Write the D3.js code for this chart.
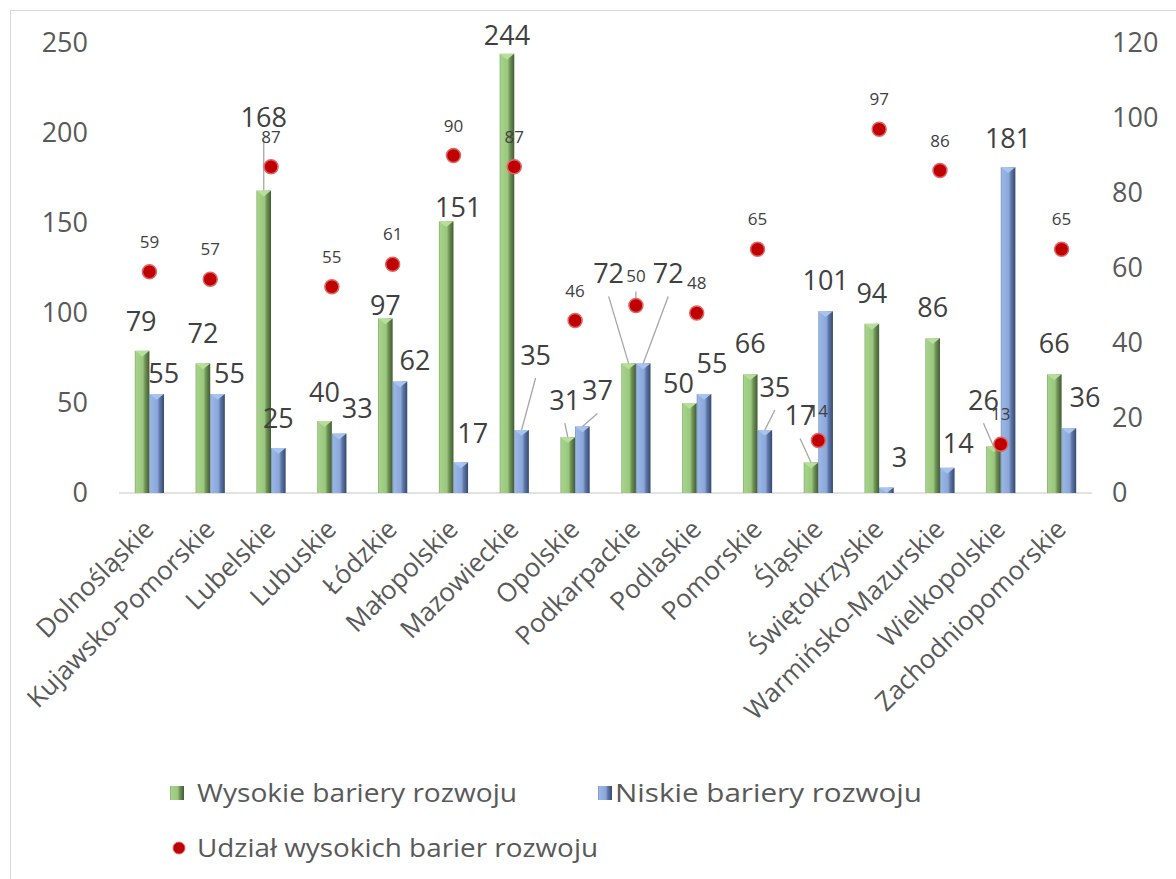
<!DOCTYPE html>
<html>
<head>
<meta charset="utf-8">
<script src="https://cdn.jsdelivr.net/npm/d3@7"></script>
<style>
  body { margin: 0; background: #fff; }
  text { font-family: "Open Sans", sans-serif; }
</style>
</head>
<body>
<svg width="1176" height="879"></svg>
<script>
// data
const categories = ["Dolnośląskie", "Kujawsko-Pomorskie", "Lubelskie", "Lubuskie", "Łódzkie", "Małopolskie",
    "Mazowieckie", "Opolskie", "Podkarpackie", "Podlaskie", "Pomorskie", "Śląskie", "Świętokrzyskie",
    "Warmińsko-Mazurskie", "Wielkopolskie", "Zachodniopomorskie"];
const wysokie = [79, 72, 168, 40, 97, 151, 244, 31, 72, 50, 66, 17, 94, 86, 26, 66];
const niskie = [55, 55, 25, 33, 62, 17, 35, 37, 72, 55, 35, 101, 3, 14, 181, 36];
const udzial = [59, 57, 87, 55, 61, 90, 87, 46, 50, 48, 65, 14, 97, 86, 13, 65];
const leftTicks = [0, 50, 100, 150, 200, 250];
const rightTicks = [0, 20, 40, 60, 80, 100, 120];
const seriesNames = ["Wysokie bariery rozwoju", "Niskie bariery rozwoju", "Udział wysokich barier rozwoju"];

// label nudges (dx, dy from bar top centre), like the hand-moved labels in the original
const nudgeW = [[-1,-20],[0,-20],[0,-64],[0,-19],[0,-3],[12,-4],[0,-9],[-3,-27],[-20,-80],[-11,-10],[0,-21],[-11,-37],[0,-21],[0,-21],[-10,-36],[0,-21]];
const nudgeN = [[7,-11],[12,-11],[0,-20],[18,-16],[15,-11],[12,-19],[14,-65],[15,-26],[25,-80],[8,-21],[10,-33],[0,-21],[13,-21],[11,-15],[0,-19],[16,-21]];
const leaderW = [2, 7, 8, 11, 14];
const leaderN = [6, 7, 8, 10];
const leaderDot = [8];

const svg = d3.select("svg");
const plotLeft = 119, plotRight = 1092, plotTop = 43, plotBottom = 493;
const barW = 14.6;

const x = d3.scaleBand().domain(categories).range([plotLeft, plotRight]);
const xSub = d3.scaleBand().domain(["w", "n"])
    .range([x.bandwidth() / 2 - barW, x.bandwidth() / 2 + barW]);
const yL = d3.scaleLinear().domain([0, 250]).range([plotBottom, plotTop]);
const yR = d3.scaleLinear().domain([0, 120]).range([plotBottom, plotTop]);

// gradients
const defs = svg.append("defs");
function grad(id, stops) {
    const g = defs.append("linearGradient").attr("id", id)
        .attr("x1", "0").attr("x2", "1").attr("y1", "0").attr("y2", "0");
    stops.forEach(s => g.append("stop").attr("offset", s[0]).attr("stop-color", s[1]));
}
grad("gW", [[0, "#7ea565"], [0.08, "#a6d38a"], [0.55, "#9ac77d"], [0.7, "#6f9456"], [1, "#425b33"]]);
grad("gN", [[0, "#6f8bbd"], [0.08, "#9ab6e6"], [0.55, "#8ba7d9"], [0.7, "#5f78a8"], [1, "#354970"]]);

// border
svg.append("rect")
    .attr("x", 10.5).attr("y", 10.5)
    .attr("width", 1180).attr("height", 880)
    .attr("fill", "none").attr("stroke", "#d9d9d9");

// axes
const axL = svg.append("g")
    .attr("transform", "translate(88,0)")
    .call(d3.axisLeft(yL).tickValues(leftTicks).tickSize(0).tickPadding(0));
const axR = svg.append("g")
    .attr("transform", "translate(1112,0)")
    .call(d3.axisRight(yR).tickValues(rightTicks).tickSize(0).tickPadding(0));
[axL, axR].forEach(a => {
    a.select(".domain").remove();
    a.selectAll("text").attr("font-size", 27).attr("fill", "#595959")
        .style("font-family", "'Open Sans', sans-serif");
});

// baseline
svg.append("line")
    .attr("x1", plotLeft).attr("x2", plotRight)
    .attr("y1", plotBottom).attr("y2", plotBottom)
    .attr("stroke", "#d9d9d9").attr("stroke-width", 1.5);

// category labels
svg.append("g").selectAll("text")
    .data(categories)
    .join("text")
    .attr("transform", d => "translate(" + (x(d) + x.bandwidth() / 2 + 6) + ",531) rotate(-45)")
    .attr("text-anchor", "end")
    .attr("font-size", 26)
    .attr("fill", "#595959")
    .text(d => d);

// bars
function drawBars(values, key, gradId, topColor) {
    const g = svg.append("g");
    const bx = (i) => x(categories[i]) + xSub(key);
    values.forEach((v, i) => {
        const y0 = yL(v);
        g.append("rect")
            .attr("x", bx(i)).attr("y", y0)
            .attr("width", xSub.bandwidth())
            .attr("height", plotBottom - y0)
            .attr("fill", "url(#" + gradId + ")");
        const w = xSub.bandwidth();
        const h = Math.min(w * 0.4, plotBottom - y0);
        g.append("polygon")
            .attr("points", [[bx(i), y0], [bx(i) + w, y0], [bx(i) + w / 2, y0 + h]].map(p => p.join(",")).join(" "))
            .attr("fill", topColor);
    });
}
drawBars(wysokie, "w", "gW", "#b8de9c");
drawBars(niskie, "n", "gN", "#a9c3ef");

// leader lines
const leaders = svg.append("g").attr("stroke", "#a6a6a6").attr("stroke-width", 1.3);
function barLabelPos(values, key, nudge, i) {
    const cx = x(categories[i]) + xSub(key) + xSub.bandwidth() / 2;
    const cy = yL(values[i]);
    return { bx: cx, by: cy, lx: cx + nudge[i][0], ly: cy + nudge[i][1] };
}
leaderW.forEach(i => {
    const p = barLabelPos(wysokie, "w", nudgeW, i);
    leaders.append("line").attr("x1", p.lx).attr("y1", p.ly + 13).attr("x2", p.bx).attr("y2", p.by);
});
leaderN.forEach(i => {
    const p = barLabelPos(niskie, "n", nudgeN, i);
    leaders.append("line").attr("x1", p.lx).attr("y1", p.ly + 13).attr("x2", p.bx).attr("y2", p.by);
});
leaderDot.forEach(i => {
    const cx = x(categories[i]) + x.bandwidth() / 2;
    leaders.append("line").attr("x1", cx).attr("y1", yR(udzial[i]) - 14)
        .attr("x2", cx).attr("y2", yR(udzial[i]));
});

// dots
svg.append("g").selectAll("circle")
    .data(udzial)
    .join("circle")
    .attr("cx", (d, i) => x(categories[i]) + x.bandwidth() / 2)
    .attr("cy", d => yR(d))
    .attr("r", 7)
    .attr("fill", "#c00000")
    .attr("stroke", "#e06666")
    .attr("stroke-width", 1.5);

// dot labels
svg.append("g").selectAll("text")
    .data(udzial)
    .join("text")
    .attr("x", (d, i) => x(categories[i]) + x.bandwidth() / 2)
    .attr("y", d => yR(d) - 24)
    .attr("text-anchor", "middle")
    .attr("font-size", 17)
    .attr("fill", "#404040")
    .text(d => d);

// bar labels
function drawLabels(values, key, nudge) {
    svg.append("g").selectAll("text")
        .data(values)
        .join("text")
        .attr("x", (d, i) => barLabelPos(values, key, nudge, i).lx)
        .attr("y", (d, i) => barLabelPos(values, key, nudge, i).ly)
        .attr("text-anchor", "middle")
        .attr("font-size", 27)
        .attr("fill", "#404040")
        .text(d => d);
}
drawLabels(wysokie, "w", nudgeW);
drawLabels(niskie, "n", nudgeN);

// legend
const legend = svg.append("g");
legend.append("rect").attr("x", 170).attr("y", 786).attr("width", 14).attr("height", 14).attr("fill", "url(#gW)");
legend.append("rect").attr("x", 598).attr("y", 786).attr("width", 14).attr("height", 14).attr("fill", "url(#gN)");
legend.append("circle").attr("cx", 179).attr("cy", 848).attr("r", 6)
    .attr("fill", "#c00000").attr("stroke", "#e06666").attr("stroke-width", 1);
const legendPos = [[197, 802, 320], [615, 802, 307], [197, 857, 401]];
seriesNames.forEach((s, i) => {
    legend.append("text")
        .attr("x", legendPos[i][0]).attr("y", legendPos[i][1])
        .attr("font-size", 25)
        .attr("fill", "#595959")
        .attr("textLength", legendPos[i][2])
        .attr("lengthAdjust", "spacingAndGlyphs")
        .text(s);
});
</script>
</body>
</html>
